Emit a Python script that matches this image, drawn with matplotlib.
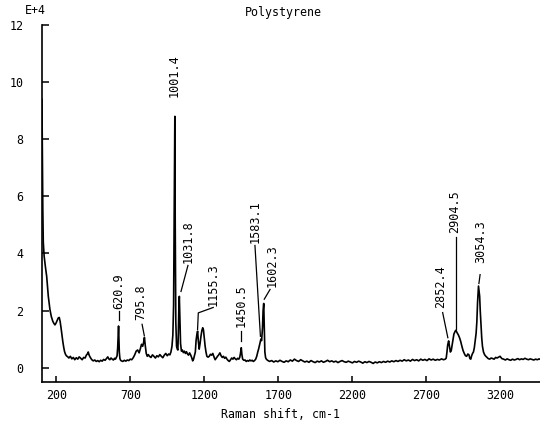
import numpy as np
import matplotlib
matplotlib.use("Agg")
import matplotlib.pyplot as plt

plt.rcParams['font.family'] = ['DejaVu Sans Mono']

# Raman spectrum of polystyrene, counts in units of 1E+4, traced as (shift, intensity)
rise = [(103, 9.4), (105, 8.0), (107, 6.5), (109, 5.5), (112, 4.4), (118, 3.9),
        (126, 3.55), (135, 3.2), (141, 2.8), (146, 2.5), (152, 2.25), (157, 2.04),
        (166, 1.80), (176, 1.63), (184, 1.55), (191, 1.50), (198, 1.56), (206, 1.66),
        (213, 1.74), (220, 1.76), (226, 1.62), (232, 1.40), (238, 1.15), (244, 0.92),
        (250, 0.72), (256, 0.56), (263, 0.46), (270, 0.41), (278, 0.38)]

low_band = [(285, 0.34), (295, 0.40), (305, 0.31), (315, 0.36), (325, 0.28), (335, 0.35),
            (345, 0.30), (355, 0.38), (365, 0.33), (375, 0.28), (385, 0.36), (395, 0.34),
            (403, 0.44), (410, 0.48), (416, 0.55), (422, 0.44), (430, 0.36), (440, 0.28),
            (450, 0.24), (460, 0.27), (470, 0.22), (480, 0.25), (490, 0.21), (500, 0.26),
            (510, 0.23), (520, 0.29), (530, 0.26), (540, 0.33), (548, 0.38), (555, 0.31),
            (562, 0.28), (570, 0.34), (578, 0.30), (586, 0.27), (594, 0.33), (600, 0.30),
            (606, 0.36), (611, 0.42), (615, 0.70), (618, 1.10), (620.9, 1.46), (623, 1.05),
            (626, 0.55), (630, 0.32), (635, 0.26)]

ring_band = [(640, 0.24), (650, 0.22), (660, 0.26), (670, 0.23), (680, 0.27), (690, 0.25),
             (700, 0.30), (710, 0.28), (720, 0.35), (730, 0.45), (740, 0.58), (750, 0.62),
             (760, 0.52), (768, 0.66), (776, 0.82), (784, 0.75), (790, 0.88), (795.8, 1.06),
             (801, 0.80), (808, 0.50), (815, 0.40), (822, 0.46), (830, 0.40), (840, 0.36),
             (850, 0.45), (860, 0.40), (870, 0.34), (880, 0.42), (890, 0.38), (900, 0.46),
             (910, 0.40), (920, 0.35), (930, 0.44), (940, 0.50), (950, 0.42), (960, 0.48),
             (968, 0.45), (975, 0.55), (982, 0.75), (988, 1.15), (993, 2.2), (997, 5.5),
             (1001.4, 8.8), (1004, 5.0), (1008, 1.6), (1013, 0.75)]

fingerprint = [(1018, 0.65), (1022, 0.62), (1025, 1.2), (1029, 2.2), (1031.8, 2.5),
               (1035, 1.9), (1040, 0.85), (1046, 0.58), (1052, 0.62), (1059, 0.53),
               (1066, 0.58), (1073, 0.50), (1080, 0.56), (1087, 0.48), (1094, 0.44),
               (1101, 0.52), (1108, 0.45), (1115, 0.36), (1122, 0.24), (1128, 0.30),
               (1134, 0.42), (1140, 0.55), (1145, 0.95), (1150, 1.15), (1155.3, 1.28),
               (1160, 0.95), (1166, 0.65), (1172, 0.85), (1178, 1.10), (1184, 1.30),
               (1190, 1.40), (1195, 1.32), (1200, 1.05), (1206, 0.76), (1212, 0.55),
               (1218, 0.40), (1226, 0.37), (1234, 0.40), (1242, 0.47), (1250, 0.44),
               (1258, 0.50), (1266, 0.38), (1274, 0.28), (1282, 0.34), (1290, 0.40),
               (1298, 0.45), (1306, 0.52), (1314, 0.42), (1322, 0.36), (1330, 0.40),
               (1338, 0.33), (1346, 0.37), (1354, 0.30), (1362, 0.25), (1370, 0.22),
               (1378, 0.28), (1386, 0.34), (1394, 0.30), (1402, 0.36), (1410, 0.31),
               (1418, 0.28), (1426, 0.33), (1434, 0.30), (1440, 0.36), (1445, 0.50),
               (1450.5, 0.70), (1455, 0.45), (1460, 0.30), (1468, 0.26), (1476, 0.27),
               (1484, 0.22), (1492, 0.25), (1500, 0.23), (1508, 0.27), (1516, 0.24),
               (1524, 0.26), (1532, 0.22), (1540, 0.25), (1548, 0.30), (1555, 0.40),
               (1562, 0.55), (1568, 0.66), (1574, 0.80), (1579, 0.92), (1583.1, 1.00),
               (1588, 0.95), (1594, 1.40), (1598, 2.00), (1602.3, 2.25), (1606, 1.40),
               (1610, 0.55), (1615, 0.35), (1620, 0.30)]

quiet_x = [1628, 1642, 1656, 1670, 1684, 1698, 1712, 1726, 1740, 1754, 1768, 1782, 1796,
           1810, 1824, 1838, 1852, 1866, 1880, 1894, 1908, 1922, 1936, 1950, 1964, 1978,
           1992, 2006, 2020, 2034, 2048, 2062, 2076, 2090, 2104, 2118, 2132, 2146, 2160,
           2174, 2188, 2202, 2216, 2230, 2244, 2258, 2272, 2286, 2300, 2314, 2328, 2342,
           2356, 2370, 2384, 2398, 2412, 2426, 2440, 2454, 2468, 2482, 2496, 2510, 2524,
           2538, 2552, 2566, 2580, 2594, 2608, 2622, 2636, 2650, 2664, 2678, 2692, 2706,
           2720, 2734, 2748, 2762, 2776, 2790, 2804, 2818, 2830]
quiet_y = [0.26, 0.22, 0.25, 0.20, 0.24, 0.21, 0.26, 0.22, 0.19, 0.24,
           0.21, 0.27, 0.23, 0.30, 0.25, 0.22, 0.28, 0.24, 0.20, 0.23,
           0.19, 0.25, 0.21, 0.18, 0.23, 0.20, 0.24, 0.19, 0.22, 0.26,
           0.21, 0.24, 0.20, 0.23, 0.18, 0.22, 0.25, 0.21, 0.19, 0.23,
           0.20, 0.17, 0.22, 0.19, 0.23, 0.20, 0.16, 0.21, 0.18, 0.22,
           0.19, 0.15, 0.20, 0.17, 0.21, 0.18, 0.22, 0.19, 0.23, 0.20,
           0.24, 0.21, 0.25, 0.22, 0.26, 0.23, 0.28, 0.24, 0.27, 0.23,
           0.29, 0.25, 0.28, 0.24, 0.30, 0.26, 0.29, 0.25, 0.31, 0.27,
           0.30, 0.26, 0.29, 0.27, 0.31, 0.28, 0.30]

ch_stretch = [(2836, 0.34), (2841, 0.55), (2846, 0.80), (2852.4, 0.94), (2858, 0.75),
              (2864, 0.55), (2870, 0.60), (2876, 0.80), (2882, 1.00), (2888, 1.18),
              (2894, 1.25), (2900, 1.31), (2904.5, 1.28), (2910, 1.22), (2918, 1.15),
              (2926, 1.05), (2934, 0.92), (2942, 0.75), (2950, 0.60), (2958, 0.50),
              (2966, 0.42), (2974, 0.40), (2982, 0.48), (2990, 0.45), (2996, 0.32),
              (3002, 0.30), (3008, 0.42), (3014, 0.50), (3020, 0.55), (3026, 0.70),
              (3032, 0.95), (3038, 1.20), (3043, 1.60), (3048, 2.30), (3054.3, 2.86),
              (3058, 2.70), (3062, 2.50), (3066, 2.00), (3071, 1.55), (3076, 1.05),
              (3081, 0.75), (3088, 0.55), (3096, 0.45), (3104, 0.40), (3112, 0.36),
              (3120, 0.32), (3130, 0.30), (3140, 0.34), (3150, 0.32), (3160, 0.30),
              (3170, 0.36), (3180, 0.34), (3190, 0.37), (3200, 0.40), (3212, 0.32),
              (3224, 0.30), (3236, 0.27), (3248, 0.31), (3260, 0.28), (3272, 0.26),
              (3284, 0.30), (3296, 0.27), (3308, 0.29), (3320, 0.32), (3332, 0.28),
              (3344, 0.31), (3356, 0.29), (3368, 0.33), (3380, 0.30), (3392, 0.28),
              (3404, 0.31), (3416, 0.29), (3428, 0.27), (3440, 0.30), (3452, 0.28),
              (3464, 0.31), (3472, 0.29)]

peak_names = ['620.9', '795.8', '1001.4', '1031.8', '1155.3', '1450.5',
              '1583.1', '1602.3', '2852.4', '2904.5', '3054.3']
xticks = [200, 700, 1200, 1700, 2200, 2700, 3200]
yticks = [0, 2, 4, 6, 8, 10, 12]

# label placement: text (x, bottom y) and leader line vertices
label_layout = [
    ((620.9, 2.06), [(620.9, 1.98), (620.9, 1.66)]),
    ((770, 1.66), [(780, 1.52), (795, 1.12)]),
    ((995, 9.48), []),
    ((1093, 3.68), [(1090, 3.58), (1043, 2.67)]),
    ((1261, 2.15), [(1261, 2.11), (1160, 1.92), (1155, 1.34)]),
    ((1447, 1.41), [(1450, 1.28), (1450, 0.94)]),
    ((1543, 4.35), [(1543, 4.28), (1580, 1.10)]),
    ((1658, 2.84), [(1645, 2.74), (1606, 2.40)]),
    ((2799, 2.10), [(2812, 1.93), (2847, 1.05)]),
    ((2896, 4.72), [(2903, 4.59), (2903, 1.36)]),
    ((3069, 3.67), [(3065, 3.26), (3057, 2.95)]),
]

segments = [rise, low_band, ring_band, fingerprint,
            list(zip(quiet_x, quiet_y)), ch_stretch]
spec = np.array([p for seg in segments for p in seg])

fig = plt.figure(figsize=(5.4, 4.25), dpi=100)
ax = fig.add_axes([41.5 / 540, 1 - 382 / 425, 1 - 41.5 / 540, (382 - 25) / 425])

ax.plot(spec[:, 0], spec[:, 1], color='black', lw=1.2)

for name, ((tx, ty), leader) in zip(peak_names, label_layout):
    ax.text(tx, ty, name, rotation=90, ha='center', va='bottom', fontsize=8.5)
    if leader:
        lx, ly = zip(*leader)
        ax.plot(lx, ly, color='black', lw=0.9)

ax.set_xlim(100, 3470)
ax.set_ylim(-0.5, 12)
ax.set_xticks(xticks)
ax.set_yticks(yticks)
ax.tick_params(direction='in', width=1.1, labelsize=8.4, color='black')
ax.tick_params(axis='x', length=4, pad=5)
ax.tick_params(axis='y', length=5, pad=13)
for side in ['top', 'right']:
    ax.spines[side].set_visible(False)
for side in ['left', 'bottom']:
    ax.spines[side].set_linewidth(1.2)

fig.text(283.5 / 540, 1 - 12.5 / 425, 'Polystyrene', ha='center', va='center', fontsize=8.4)
fig.text(35 / 540, 1 - 11 / 425, 'E+4', ha='center', va='center', fontsize=8.4)
fig.text(280.5 / 540, 1 - 415 / 425, 'Raman shift, cm-1', ha='center', va='center', fontsize=8.4)

fig.savefig('out.png', dpi=100)
